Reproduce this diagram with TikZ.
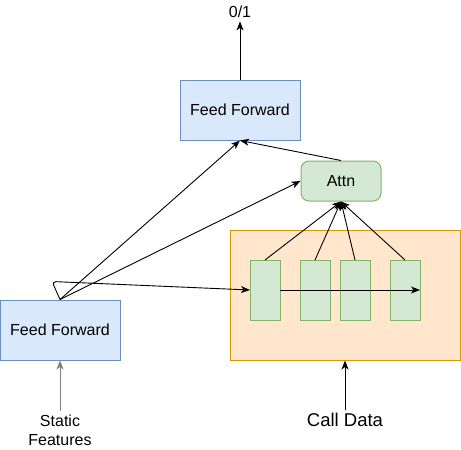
\documentclass[tikz,border=0pt]{standalone}
\usepackage{fontspec}
\setmainfont{Liberation Sans}
\usepackage{xcolor}
\usepackage{tikz}
\usetikzlibrary{arrows.meta, positioning}

\definecolor{ffFill}{HTML}{DAE8FC}
\definecolor{ffLine}{HTML}{6C8EBF}
\definecolor{gnFill}{HTML}{D5E8D4}
\definecolor{gnLine}{HTML}{82B366}
\definecolor{orFill}{HTML}{FFE6CC}
\definecolor{orLine}{HTML}{D79B00}

\begin{document}
\begin{tikzpicture}[
        x=1pt, y=1pt,
        font=\fontsize{16}{19}\selectfont,
        ffbox/.style={rectangle, draw=ffLine, fill=ffFill, line width=1pt, minimum width=120pt, minimum height=60pt, text centered},
        cell/.style={rectangle, draw=gnLine, fill=gnFill, line width=1pt, minimum width=30pt, minimum height=60pt, outer sep=0pt},
        attnbox/.style={rectangle, draw=gnLine, fill=gnFill, line width=1pt, minimum width=80pt, minimum height=40pt, rounded corners=8pt, text centered},
        seqbox/.style={rectangle, draw=orLine, fill=orFill, line width=1pt, minimum width=230pt, minimum height=130pt},
        arrow/.style={line width=0.9pt, -{Stealth[length=9pt, width=7pt, inset=2.5pt]}}
    ]

    \useasboundingbox (0,0) rectangle (461,-450);

    \node (fftop) [ffbox] at (240,-110) {Feed Forward};
    \node (out) at (240,-12) {0/1};
    \node (attn) [attnbox, below right=20pt and 0pt of fftop] {Attn};

    \node (seq) [seqbox] at (345,-295) {};
    \node (c1) [cell] at (265,-290) {};
    \node (c2) [cell, right=20pt of c1] {};
    \node (c3) [cell, right=10pt of c2] {};
    \node (c4) [cell, right=20pt of c3] {};

    \node (ffin) [ffbox] at (60,-330) {Feed Forward};
    \node (static) [align=center, font=\fontsize{16}{19}\selectfont] at (60,-430) {Static\\Features};
    \node (calltxt) [font=\fontsize{18.5}{22}\selectfont] at (345,-420) {Call Data};

    \draw [arrow] (fftop) -- (out);
    \draw [arrow] (attn.north) -- (fftop.south);
    \draw [arrow] (ffin.north) -- (fftop.south);
    \draw [arrow] (ffin.north) -- (attn.west);
    \draw [arrow, rounded corners=4pt] (ffin.north) -- ++(-8,18) -- (c1.west);
    \draw [arrow] (c1.east) -- (c4.east);

    \foreach \c in {c1,c2,c3,c4}
        \draw [arrow] (\c.north) -- (attn.south);

    \draw [arrow, draw=gray] (static) -- (ffin);
    \draw [arrow] (calltxt) -- (seq);

\end{tikzpicture}
\end{document}
